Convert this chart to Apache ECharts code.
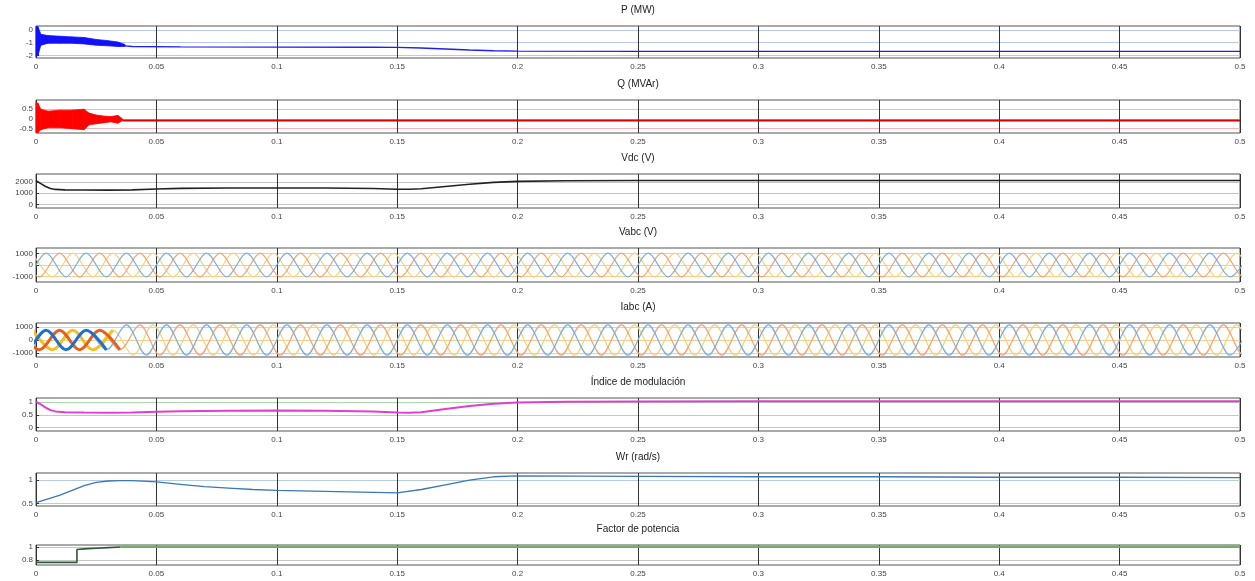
<!DOCTYPE html>
<html>
<head>
<meta charset="utf-8">
<title>Simulación</title>
<script src="https://cdn.jsdelivr.net/npm/echarts@6/dist/echarts.min.js"></script>
<style>
  html, body { margin: 0; padding: 0; background: #fff; }
  #chart { width: 1255px; height: 581px; }
</style>
</head>
<body>
<div id="chart"></div>
<script>
// panel titles and y tick labels
const titles = ['P (MW)', 'Q (MVAr)', 'Vdc (V)', 'Vabc (V)', 'Iabc (A)', 'Índice de modulación', 'Wr (rad/s)', 'Factor de potencia']
const yRange = [[-2.2, 0.3], [-0.72, 0.97], [-300, 2700], [-1500, 1500], [-1300, 1300], [-0.13, 1.15], [0.45, 1.15], [0.72, 1.03]]
const yTicks = [[-2, -1, 0], [-0.5, 0, 0.5], [0, 1000, 2000], [-1000, 0, 1000], [-1000, 0, 1000], [0, 0.5, 1], [0.5, 1], [0.8, 1]]

// P (MW): noisy start-up band, then the settled trace
const pBandT = [0, 0.0008, 0.002, 0.005, 0.01, 0.015, 0.02, 0.025, 0.03, 0.034, 0.037]
const pBandHi = [0.25, 0.25, -0.35, -0.45, -0.5, -0.55, -0.6, -0.75, -0.85, -0.95, -1.15]
const pBandLo = [-2.1, -2.0, -1.2, -1.05, -1.05, -1.05, -1.1, -1.2, -1.25, -1.3, -1.3]
const pT = [0.037, 0.04, 0.06, 0.1, 0.14, 0.15, 0.16, 0.17, 0.18, 0.19, 0.2, 0.25, 0.3, 0.35, 0.4, 0.45, 0.5]
const pVal = [-1.25, -1.3, -1.33, -1.35, -1.36, -1.37, -1.42, -1.5, -1.58, -1.63, -1.66, -1.68, -1.68, -1.68, -1.68, -1.68, -1.68]

// Q (MVAr)
const qBandT = [0, 0.0008, 0.002, 0.005, 0.01, 0.015, 0.02, 0.022, 0.025, 0.028, 0.031, 0.034, 0.036]
const qBandHi = [0.85, 0.8, 0.5, 0.4, 0.45, 0.45, 0.5, 0.3, 0.2, 0.15, 0.12, 0.18, 0.0]
const qBandLo = [-0.7, -0.7, -0.55, -0.45, -0.45, -0.5, -0.55, -0.3, -0.25, -0.2, -0.15, -0.22, -0.08]
const qT = [0.036, 0.1, 0.2, 0.3, 0.4, 0.5]
const qVal = [-0.08, -0.08, -0.08, -0.08, -0.08, -0.08]

// Vdc (V) and modulation index share one time base
const slowT = [0, 0.002, 0.004, 0.006, 0.008, 0.012, 0.02, 0.03, 0.04, 0.05, 0.06, 0.08, 0.1, 0.12, 0.14, 0.15, 0.155, 0.16, 0.17, 0.18, 0.19, 0.2, 0.22, 0.25, 0.3, 0.35, 0.4, 0.45, 0.5]
const vdcVal = [2100, 1850, 1600, 1420, 1340, 1300, 1290, 1280, 1300, 1380, 1430, 1460, 1470, 1460, 1420, 1360, 1350, 1400, 1600, 1800, 1960, 2050, 2100, 2120, 2130, 2130, 2130, 2130, 2130]
const modVal = [1.0, 0.9, 0.78, 0.68, 0.63, 0.6, 0.59, 0.58, 0.59, 0.62, 0.64, 0.66, 0.67, 0.66, 0.63, 0.59, 0.58, 0.6, 0.72, 0.84, 0.93, 0.98, 1.0, 1.01, 1.02, 1.02, 1.02, 1.02, 1.02]

// three-phase waves: times of the extrema of phase a (60 Hz), lags of b and c
const peakTimes = [-0.0125, -0.0042, 0.0042, 0.0125, 0.0208, 0.0292, 0.0375, 0.0458, 0.0542, 0.0625, 0.0708, 0.0792, 0.0875, 0.0958,
  0.1042, 0.1125, 0.1208, 0.1292, 0.1375, 0.1458, 0.1542, 0.1625, 0.1708, 0.1792, 0.1875, 0.1958,
  0.2042, 0.2125, 0.2208, 0.2292, 0.2375, 0.2458, 0.2542, 0.2625, 0.2708, 0.2792, 0.2875, 0.2958,
  0.3042, 0.3125, 0.3208, 0.3292, 0.3375, 0.3458, 0.3542, 0.3625, 0.3708, 0.3792, 0.3875, 0.3958,
  0.4042, 0.4125, 0.4208, 0.4292, 0.4375, 0.4458, 0.4542, 0.4625, 0.4708, 0.4792, 0.4875, 0.4958, 0.5042]
const phaseLag = [0, 0.0056, 0.0111]
const vabcAmp = 1050
const iabcAmpStart = 750
const iabcAmp = 1150
const iabcSettle = 0.036

// Wr (rad/s)
const wrT = [0, 0.005, 0.01, 0.015, 0.02, 0.025, 0.03, 0.035, 0.04, 0.05, 0.06, 0.07, 0.08, 0.09, 0.1, 0.11, 0.12, 0.13, 0.14, 0.15, 0.16, 0.17, 0.18, 0.19, 0.2, 0.25, 0.3, 0.35, 0.4, 0.45, 0.5]
const wrVal = [0.52, 0.6, 0.68, 0.78, 0.88, 0.95, 0.98, 0.99, 0.99, 0.96, 0.91, 0.86, 0.83, 0.8, 0.78, 0.77, 0.76, 0.75, 0.74, 0.73, 0.8, 0.9, 1.0, 1.07, 1.09, 1.08, 1.07, 1.07, 1.06, 1.06, 1.05]

// Factor de potencia
const fpT = [0, 0.017, 0.017, 0.02, 0.025, 0.03, 0.035, 0.04, 0.1, 0.5]
const fpVal = [0.76, 0.76, 0.96, 0.97, 0.98, 0.99, 1.0, 1.0, 1.0, 1.0]

const boxes = [[26, 32], [100, 33], [174, 34], [248, 34], [323, 34], [398, 33], [473, 33], [545, 20]]
const tints = ['#bcc6f2', '#f2b4b4', '#c4c4c4', '#f3cf95', '#f3cf95', '#a9dba9', '#b6cce2', '#c4c4c4']
const font = 'Liberation Sans, Arial, sans-serif'

function pairs(xs, ys) {
  return xs.map((x, i) => [x, ys[i]])
}

function line(gi, data, color, width, extra) {
  return Object.assign({
    type: 'line',
    xAxisIndex: gi,
    yAxisIndex: gi,
    data: data,
    symbol: 'none',
    silent: true,
    lineStyle: { color: color, width: width }
  }, extra || {})
}

// filled envelope of the start-up ripple, one quad per step
function band(gi, xs, lo, hi, color) {
  return {
    type: 'custom',
    xAxisIndex: gi,
    yAxisIndex: gi,
    silent: true,
    encode: { x: 0, y: [1, 2] },
    data: xs.map((x, i) => [x, lo[i], hi[i]]),
    renderItem: (params, api) => {
      const i = params.dataIndex
      if (i >= xs.length - 1) return null
      const points = [
        api.coord([xs[i], hi[i]]),
        api.coord([xs[i + 1], hi[i + 1]]),
        api.coord([xs[i + 1], lo[i + 1]]),
        api.coord([xs[i], lo[i]])
      ]
      return {
        type: 'polygon',
        shape: { points: points },
        style: { fill: color, stroke: color, lineWidth: 0.8 }
      }
    }
  }
}

function wave(p, ampFn, tMax) {
  const pts = []
  peakTimes.forEach((t0, i) => {
    const t = +(t0 + phaseLag[p]).toFixed(4)
    if (t > tMax) return
    const a = ampFn(t)
    pts.push([t, i % 2 ? -a : a])
  })
  return pts
}

const lightPhase = ['#76aee0', '#f3a273', '#f2d47c']
const darkPhase = ['#1f6fd0', '#e5601c', '#f0be2a']

const series = []
series.push(band(0, pBandT, pBandLo, pBandHi, '#1010ff'))
series.push(line(0, pairs(pT, pVal), '#2020f0', 1.4))
series.push(band(1, qBandT, qBandLo, qBandHi, '#ff0000'))
series.push(line(1, pairs(qT, qVal), '#e00000', 2.2))
series.push(line(2, pairs(slowT, vdcVal), '#222222', 1.6))
for (let p = 2; p >= 0; p--) {
  series.push(line(3, wave(p, () => vabcAmp, 1), lightPhase[p], 1.2, { smooth: 0.33 }))
}
const iAmp = t => (t < iabcSettle ? iabcAmpStart : iabcAmp)
for (let p = 2; p >= 0; p--) {
  series.push(line(4, wave(p, iAmp, 1), lightPhase[p], 1.2, { smooth: 0.33 }))
}
for (let p = 2; p >= 0; p--) {
  series.push(line(4, wave(p, iAmp, iabcSettle), darkPhase[p], 3, { smooth: 0.33 }))
}
series.push(line(5, pairs(slowT, modVal), '#e03ed2', 2))
series.push(line(6, pairs(wrT, wrVal), '#3b78b6', 1.3))
series.push(line(7, pairs(fpT, fpVal).filter(d => d[0] <= 0.035), '#2c5a36', 1.6))
series.push(line(7, pairs(fpT, fpVal).filter(d => d[0] >= 0.035), '#6fb062', 2.2))

const myChart = echarts.init(document.getElementById('chart'))
myChart.setOption({
  animation: false,
  textStyle: { fontFamily: font },
  title: titles.map((t, i) => ({
    text: t,
    left: 638,
    textAlign: 'center',
    top: boxes[i][0] - 21,
    padding: 0,
    textStyle: { fontSize: 10, fontWeight: 'normal', color: '#222', fontFamily: font }
  })),
  grid: boxes.map(b => ({
    left: 36,
    right: 15,
    top: b[0],
    height: b[1],
    show: true,
    borderColor: '#555',
    borderWidth: 1,
    backgroundColor: '#fff'
  })),
  xAxis: boxes.map((b, i) => ({
    type: 'value',
    gridIndex: i,
    min: 0,
    max: 0.5,
    interval: 0.05,
    axisLine: { show: false },
    axisTick: { inside: true, length: 3, lineStyle: { color: '#333' } },
    axisLabel: {
      fontSize: 8,
      color: '#444',
      margin: 5,
      formatter: v => String(+v.toFixed(2))
    },
    splitLine: { show: true, lineStyle: { color: '#333', width: 1 } }
  })),
  yAxis: boxes.map((b, i) => ({
    type: 'value',
    gridIndex: i,
    min: yRange[i][0],
    max: yRange[i][1],
    axisLine: { show: false },
    axisTick: { show: true, inside: true, length: 3, customValues: yTicks[i], lineStyle: { color: '#333' } },
    axisLabel: { fontSize: 8, color: '#444', margin: 3, customValues: yTicks[i], formatter: v => String(v) },
    splitLine: { show: true, lineStyle: { color: tints[i], width: 1 } }
  })),
  series: series
})
</script>
</body>
</html>
